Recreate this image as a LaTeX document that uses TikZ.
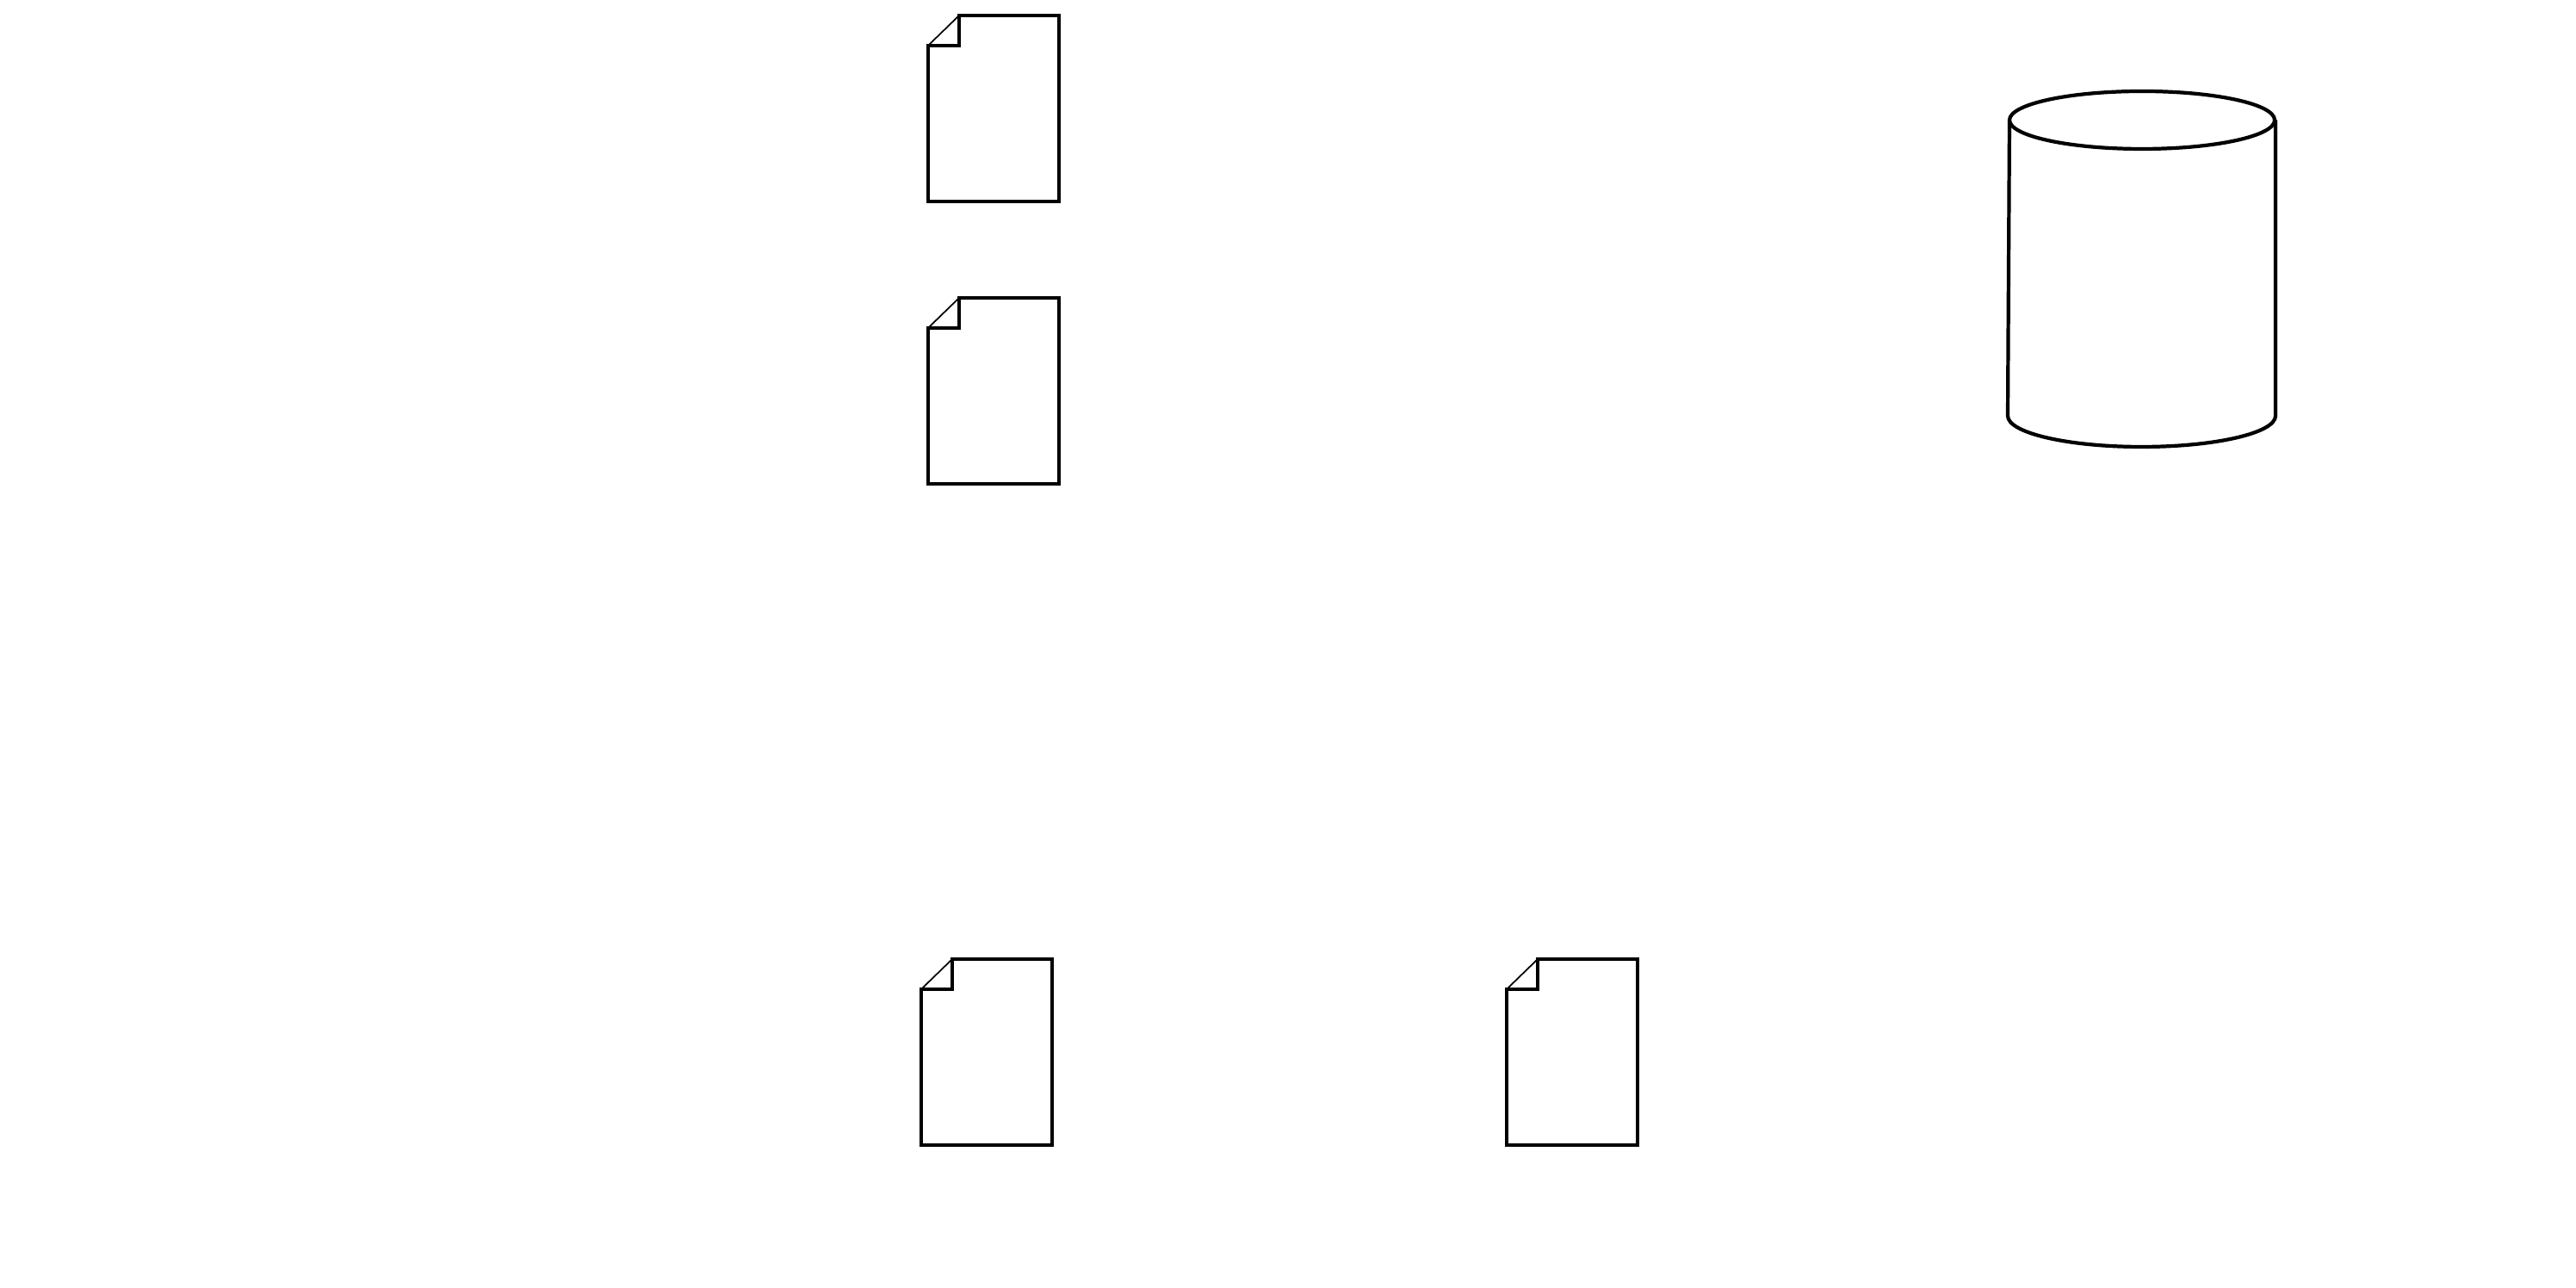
\documentclass[tikz,border=0pt]{standalone}

\tikzset{
  outline/.style={line width=1.2pt},
  crease/.style={line width=0.5pt},
  sheet/.pic={
    \draw [outline] (0,0) -- (0,1.81) -- (0.36,1.81) -- (0.36,2.16) -- (1.52,2.16) -- (1.52,0) -- cycle;
    \draw [crease] (0,1.81) -- (0.36,2.16);
  }
}

\begin{document}
\begin{tikzpicture}

\useasboundingbox (0,0) rectangle (29.92,14.96);

% files
\foreach \x/\y in {10.78/12.62, 10.78/9.34, 10.70/1.66, 17.50/1.66}
  \pic at (\x,\y) {sheet};

% database
\draw [outline] (24.88,13.565) ellipse (1.54 and 0.335);
\draw [outline] (23.34,13.565) -- (23.32,10.13) arc (180:360:1.555 and 0.36) -- (26.43,13.565);
\end{tikzpicture}
\end{document}
